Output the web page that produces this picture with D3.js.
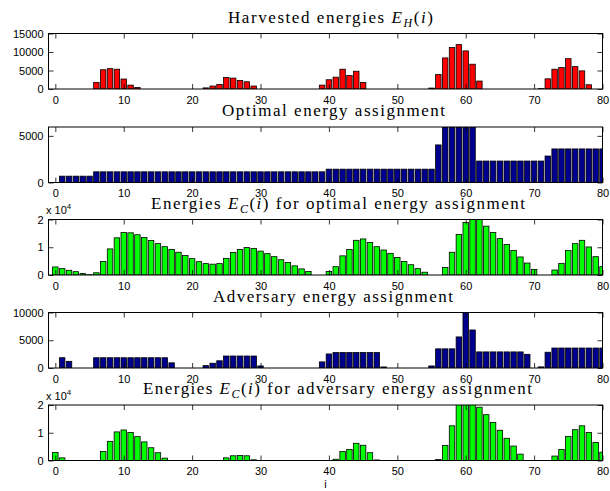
<!DOCTYPE html>
<html>
<head>
<meta charset="utf-8">
<script src="https://d3js.org/d3.v7.min.js"></script>
<style>
  body { margin: 0; background: #fff; }
</style>
</head>
<body>
<script>
'use strict';

// slot index i (x axis)
const slotIndex = d3.range(0, 81);
const xTickValues = [0, 10, 20, 30, 40, 50, 60, 70, 80];

// harvested energies E_H(i)
const harvestedEnergy = [
  0, 0, 0, 0, 0, 0, 1800, 5200, 5500, 5350,
  2700, 1050, 400, 0, 0, 0, 0, 0, 0, 0,
  0, 0, 300, 800, 1250, 3100, 2950, 2300, 1950, 800,
  0, 0, 0, 0, 0, 0, 0, 0, 0, 1050,
  2500, 3200, 5350, 3650, 4800, 1750, 0, 0, 0, 0,
  0, 0, 0, 0, 0, 250, 3900, 8400, 11200, 12000,
  10300, 6700, 2150, 0, 0, 0, 0, 0, 0, 0,
  0, 100, 2750, 5350, 5800, 8200, 6050, 4900, 1150, 0,
  0
];

// optimal energy assignment
const optimalAssignment = [
  0, 680, 680, 680, 680, 680, 1145, 1145, 1145, 1145,
  1145, 1145, 1145, 1145, 1145, 1145, 1145, 1145, 1145, 1145,
  1145, 1145, 1145, 1145, 1145, 1145, 1145, 1145, 1145, 1145,
  1145, 1145, 1145, 1145, 1145, 1145, 1145, 1145, 1145, 1145,
  1430, 1430, 1430, 1430, 1430, 1430, 1430, 1430, 1430, 1430,
  1430, 1430, 1430, 1430, 1430, 1430, 4030, 5950, 5950, 5950,
  5950, 5950, 2300, 2300, 2300, 2300, 2300, 2300, 2300, 2300,
  2300, 2300, 2840, 3600, 3600, 3600, 3600, 3600, 3600, 3600,
  3600
];

// energies E_C(i) for the optimal assignment
const storedOptimal = [
  2900, 2300, 1700, 1200, 500, 100, 800, 4900, 9400, 13400,
  15300, 15200, 14500, 13500, 12400, 11300, 10200, 9200, 8200, 7000,
  5900, 4800, 4100, 3900, 4100, 6000, 8100, 9200, 9900, 9600,
  8600, 7700, 6600, 5500, 4500, 3300, 2200, 1300, 0, 0,
  1300, 3000, 6900, 9200, 12500, 13000, 11700, 10200, 9000, 7800,
  6300, 4900, 3700, 2300, 1000, 0, 0, 2700, 8200, 14600,
  18900, 21000, 20500, 17600, 15300, 13100, 11000, 8800, 6500, 4300,
  2000, 0, 0, 1800, 4200, 8800, 11300, 12500, 10100, 6600,
  3000
];

// adversary energy assignment
const adversaryAssignment = [
  0, 1850, 1200, 0, 0, 0, 1850, 1850, 1850, 1850,
  1850, 1850, 1850, 1850, 1850, 1850, 1850, 930, 0, 0,
  0, 0, 430, 860, 1300, 2160, 2160, 2160, 2160, 2160,
  370, 0, 0, 0, 0, 0, 0, 0, 0, 1100,
  2530, 2780, 2780, 2780, 2780, 2780, 2780, 2780, 190, 0,
  0, 0, 0, 0, 0, 370, 3450, 3450, 3450, 5600,
  11000, 6850, 2900, 2900, 2900, 2900, 2900, 2900, 2900, 2470,
  0, 200, 2840, 3600, 3600, 3600, 3600, 3600, 3600, 3600,
  3600
];

// energies E_C(i) for the adversary assignment
const storedAdversary = [
  2900, 950, 0, 0, 0, 0, 0, 3250, 6900, 10300,
  11000, 10100, 8600, 6700, 4600, 2800, 850, 0, 0, 0,
  0, 0, 0, 0, 0, 950, 1700, 1800, 1700, 250,
  0, 0, 0, 0, 0, 0, 0, 0, 0, 0,
  0, 450, 3250, 4000, 6200, 5500, 2800, 200, 0, 0,
  0, 0, 0, 0, 0, 0, 350, 5450, 12500, 21000,
  21000, 20500, 19200, 16500, 13700, 10900, 8000, 5200, 2300, 0,
  0, 0, 0, 1600, 4000, 8700, 11100, 12500, 10100, 6500,
  3000
];

// panel setup: n = normal, i = italic, s = italic subscript
const panels = [
  { values: harvestedEnergy, color: '#ff0000', yMax: 15000, yTicks: [0, 5000, 10000, 15000], exp: false,
    title: [['Harvested energies ', 'n'], ['E', 'i'], ['H', 's'], ['(', 'n'], ['i', 'i'], [')', 'n']],
    titleX: 228, titleWidth: 205 },
  { values: optimalAssignment, color: '#00008f', yMax: 5950, yTicks: [0, 5000], exp: false,
    title: [['Optimal energy assignment', 'n']],
    titleX: 222, titleWidth: 223 },
  { values: storedOptimal, color: '#00ff00', yMax: 20000, yTicks: [0, 10000, 20000], exp: true,
    title: [['Energies ', 'n'], ['E', 'i'], ['C', 's'], ['(', 'n'], ['i', 'i'], [') for optimal energy assignment', 'n']],
    titleX: 151, titleWidth: 374 },
  { values: adversaryAssignment, color: '#00008f', yMax: 10000, yTicks: [0, 5000, 10000], exp: false,
    title: [['Adversary energy assignment', 'n']],
    titleX: 213, titleWidth: 240 },
  { values: storedAdversary, color: '#00ff00', yMax: 20000, yTicks: [0, 10000, 20000], exp: true,
    title: [['Energies ', 'n'], ['E', 'i'], ['C', 's'], ['(', 'n'], ['i', 'i'], [') for adversary energy assignment', 'n']],
    titleX: 143, titleWidth: 389 }
];

const plotLeft = 48.5;
const plotRight = 602.5;
const panelTops = [33.5, 127, 219.5, 312.5, 405];
const panelHeight = 55.5;

let svgContainer = '';

window.onload = function() {
  svgContainer = d3.select('body')
    .append('svg')
    .attr('width', 610)
    .attr('height', 491)
    .style('display', 'block');

  let xScale = d3.scaleLinear()
    .domain([-1, 80])
    .range([plotLeft, plotRight]);

  panels.forEach((p, k) => drawPanel(p, k, xScale));

  // x label under the last panel
  svgContainer.append('text')
    .attr('x', (plotLeft + plotRight) / 2)
    .attr('y', 488)
    .attr('text-anchor', 'middle')
    .style('font', '11px "Liberation Sans", Arial, sans-serif')
    .text('i');
};

function drawPanel(p, k, xScale) {
  let top = panelTops[k];
  let g = svgContainer.append('g')
    .attr('transform', 'translate(0,' + top + ')');

  let yScale = d3.scaleLinear()
    .domain([0, p.yMax])
    .range([panelHeight, 0]);

  // clip bars to the axes box
  let clipId = 'clip' + k;
  g.append('clipPath').attr('id', clipId)
    .append('rect')
    .attr('x', plotLeft)
    .attr('y', 0)
    .attr('width', plotRight - plotLeft)
    .attr('height', panelHeight);

  let barW = xScale(0.4) - xScale(-0.4);
  g.append('g')
    .attr('clip-path', 'url(#' + clipId + ')')
    .selectAll('rect')
    .data(slotIndex.filter(i => p.values[i] > 0))
    .enter()
    .append('rect')
      .attr('x', i => xScale(i) - barW / 2)
      .attr('y', i => yScale(p.values[i]))
      .attr('width', barW)
      .attr('height', i => yScale(0) - yScale(p.values[i]))
      .attr('fill', p.color)
      .attr('stroke', '#000')
      .attr('stroke-width', 0.8);

  let fmt = p.exp ? (d => d / 10000) : (d => d);

  // inward ticks on all four sides, like a matlab box
  let axes = [
    g.append('g').attr('transform', 'translate(' + plotLeft + ',0)')
      .call(d3.axisLeft(yScale).tickValues(p.yTicks).tickFormat(fmt).tickSize(-5).tickSizeOuter(0).tickPadding(5)),
    g.append('g').attr('transform', 'translate(' + plotRight + ',0)')
      .call(d3.axisRight(yScale).tickValues(p.yTicks).tickFormat('').tickSize(-5).tickSizeOuter(0)),
    g.append('g').attr('transform', 'translate(0,' + panelHeight + ')')
      .call(d3.axisBottom(xScale).tickValues(xTickValues).tickSize(-5).tickSizeOuter(0).tickPadding(7)),
    g.append('g')
      .call(d3.axisTop(xScale).tickValues(xTickValues).tickFormat('').tickSize(-5).tickSizeOuter(0))
  ];
  axes.forEach(a => {
    a.select('.domain').remove();
    a.attr('font-family', '"Liberation Sans", Arial, sans-serif')
      .attr('font-size', 11);
    a.selectAll('line').attr('stroke', '#000').attr('stroke-width', 0.8);
    a.selectAll('text').attr('fill', '#000');
  });

  g.append('rect')
    .attr('x', plotLeft)
    .attr('y', 0)
    .attr('width', plotRight - plotLeft)
    .attr('height', panelHeight)
    .attr('fill', 'none')
    .attr('stroke', '#000')
    .attr('stroke-width', 1);

  if (p.exp) {
    let e = g.append('text')
      .attr('x', 46)
      .attr('y', -5.5)
      .style('font', '11px "Liberation Sans", Arial, sans-serif')
      .text('x 10');
    e.append('tspan')
      .attr('dy', -5)
      .style('font-size', '8px')
      .text('4');
  }

  makeTitle(g, p);
}

// title in a serif face with the math parts in italics
function makeTitle(g, p) {
  let t = g.append('text')
    .attr('x', p.titleX)
    .attr('y', -11)
    .style('font-family', '"Liberation Serif", "Times New Roman", serif')
    .style('font-size', '17px')
    .attr('fill', '#000');

  let inSub = false;
  p.title.forEach(part => {
    let s = t.append('tspan').text(part[0]);
    if (part[1] === 'i' || part[1] === 's') s.style('font-style', 'italic');
    if (part[1] === 's') {
      s.style('font-size', '12px').attr('dy', 4);
      inSub = true;
    } else if (inSub) {
      s.attr('dy', -4);
      inSub = false;
    }
  });

  // stretch letter spacing to match the wide original face
  let natural = t.node().getComputedTextLength();
  let n = t.node().textContent.length;
  let spacing = (p.titleWidth - natural) / (n - 1);
  t.style('letter-spacing', spacing + 'px');
}
</script>
</body>
</html>
